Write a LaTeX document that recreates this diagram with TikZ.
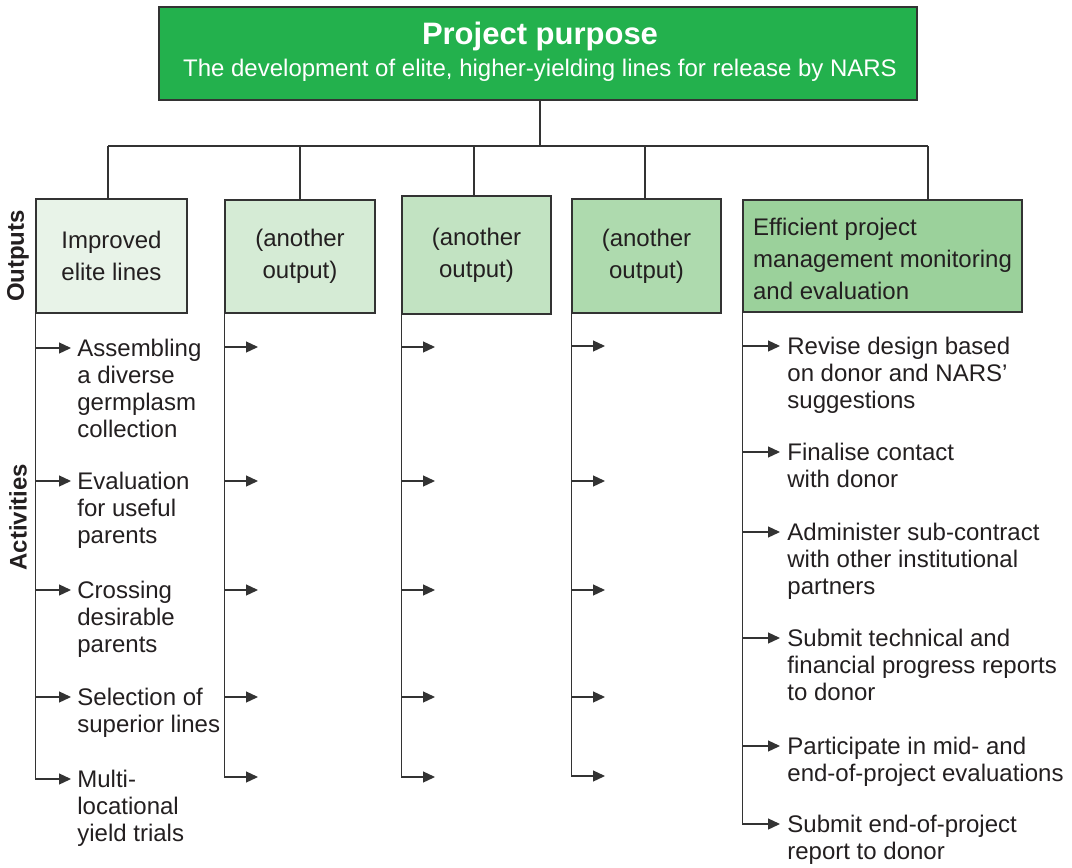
\documentclass[tikz,border=0pt]{standalone}
\usepackage{fontspec}
\setmainfont{Liberation Sans}
\usetikzlibrary{arrows.meta, calc}

\definecolor{purposegreen}{HTML}{23B14D}
\definecolor{outA}{HTML}{E8F3E8}
\definecolor{outB}{HTML}{D5EBD5}
\definecolor{outC}{HTML}{C2E3C2}
\definecolor{outD}{HTML}{AEDAAE}
\definecolor{outE}{HTML}{9BD19B}
\definecolor{linegrey}{HTML}{333333}
\definecolor{txt}{HTML}{231F20}

\tikzset{
    outbox/.style={draw=linegrey, line width=0.6pt, text=txt, align=center,
        inner sep=0pt, font=\fontsize{12}{16}\selectfont},
    acttext/.style={anchor=north west, align=left, inner sep=0pt, text=txt,
        font=\fontsize{12}{13.5}\selectfont},
    link/.style={draw=linegrey, line width=0.65pt},
    arr/.style={link, -{Triangle[length=6pt, width=5.5pt]}},
}

\begin{document}
\begin{tikzpicture}[x=0.5pt, y=-0.5pt]
    \useasboundingbox (0,0) rectangle (1072,868);

    % purpose
    \node[draw=linegrey, line width=0.6pt, fill=purposegreen, minimum width=379pt, minimum height=46.5pt] (purpose) at (538,53.5) {};
    \node[anchor=base, text=white, font=\bfseries\fontsize{15.5}{18}\selectfont] (ptitle) at (540,44) {Project purpose};
    \node[anchor=base, text=white, font=\fontsize{12}{14}\selectfont] (psub) at (540,76) {The development of elite, higher-yielding lines for release by NARS};

    % outputs
    \node[outbox, fill=outA, minimum width=75.5pt, minimum height=57pt]  (out1) at (111.5,256) {Improved\\elite lines};
    \node[outbox, fill=outB, minimum width=75pt, minimum height=56.5pt]  (out2) at (300,256.5)  {(another\\output)};
    \node[outbox, fill=outC, minimum width=74.5pt, minimum height=59pt]  (out3) at (476.5,255)  {(another\\output)};
    \node[outbox, fill=outD, minimum width=74.5pt, minimum height=57pt]  (out4) at (646.5,256)  {(another\\output)};
    \node[outbox, fill=outE, minimum width=139.5pt, minimum height=56pt, align=left, text height=43.75pt, text depth=0pt] (out5) at (882.5,256) {Efficient project\\management monitoring\\and evaluation};

    \node[rotate=90, text=txt, font=\bfseries\fontsize{12}{14}\selectfont] (outlabel) at (18,256) {Outputs};
    \node[rotate=90, text=txt, font=\bfseries\fontsize{12}{14}\selectfont] (actlabel) at (18,517) {Activities};

    % tree
    \coordinate (bus) at (540,146);
    \coordinate (bus1) at (108,146);
    \coordinate (bus2) at (300,146);
    \coordinate (bus3) at (474,146);
    \coordinate (bus4) at (645,146);
    \coordinate (bus5) at (928,146);

    \draw[link] (purpose.south -| bus) -- (bus);
    \draw[link] (bus1) -- (bus5);
    \draw[link] (bus1) -- (bus1 |- out1.north);
    \draw[link] (bus2) -- (bus2 |- out2.north);
    \draw[link] (bus3) -- (bus3 |- out3.north);
    \draw[link] (bus4) -- (bus4 |- out4.north);
    \draw[link] (bus5) -- (bus5 |- out5.north);

    % activities, first output
    \coordinate (t11) at (71,348);
    \coordinate (t12) at (71,481);
    \coordinate (t13) at (71,590);
    \coordinate (t14) at (71,697);
    \coordinate (t15) at (71,779);
    \node[acttext] (a11) at (77,339) {Assembling\\a diverse\\germplasm\\collection};
    \node[acttext] (a12) at (77,472) {Evaluation\\for useful\\parents};
    \node[acttext] (a13) at (77,581) {Crossing\\desirable\\parents};
    \node[acttext] (a14) at (77,688) {Selection of\\superior lines};
    \node[acttext] (a15) at (77,770) {Multi-\\locational\\yield trials};

    \draw[arr] (out1.south west) |- (t15);
    \draw[arr] (t11 -| out1.west) -- (t11);
    \draw[arr] (t12 -| out1.west) -- (t12);
    \draw[arr] (t13 -| out1.west) -- (t13);
    \draw[arr] (t14 -| out1.west) -- (t14);

    % activities, other outputs
    \coordinate (t21) at (258,347);
    \coordinate (t22) at (258,481);
    \coordinate (t23) at (258,590);
    \coordinate (t24) at (258,697);
    \coordinate (t25) at (258,777);
    \draw[arr] (out2.south west) |- (t25);
    \draw[arr] (t21 -| out2.west) -- (t21);
    \draw[arr] (t22 -| out2.west) -- (t22);
    \draw[arr] (t23 -| out2.west) -- (t23);
    \draw[arr] (t24 -| out2.west) -- (t24);

    \coordinate (t31) at (435,347);
    \coordinate (t32) at (435,481);
    \coordinate (t33) at (435,590);
    \coordinate (t34) at (435,697);
    \coordinate (t35) at (435,777);
    \draw[arr] (out3.south west) |- (t35);
    \draw[arr] (t31 -| out3.west) -- (t31);
    \draw[arr] (t32 -| out3.west) -- (t32);
    \draw[arr] (t33 -| out3.west) -- (t33);
    \draw[arr] (t34 -| out3.west) -- (t34);

    \coordinate (t41) at (605,346);
    \coordinate (t42) at (605,481);
    \coordinate (t43) at (605,590);
    \coordinate (t44) at (605,697);
    \coordinate (t45) at (605,776);
    \draw[arr] (out4.south west) |- (t45);
    \draw[arr] (t41 -| out4.west) -- (t41);
    \draw[arr] (t42 -| out4.west) -- (t42);
    \draw[arr] (t43 -| out4.west) -- (t43);
    \draw[arr] (t44 -| out4.west) -- (t44);

    % activities, management output
    \coordinate (t51) at (780,346);
    \coordinate (t52) at (780,452);
    \coordinate (t53) at (780,532);
    \coordinate (t54) at (780,638);
    \coordinate (t55) at (780,746);
    \coordinate (t56) at (780,824);
    \node[acttext] (a51) at (787,337) {Revise design based\\on donor and NARS’\\suggestions};
    \node[acttext] (a52) at (787,443) {Finalise contact\\with donor};
    \node[acttext] (a53) at (787,523) {Administer sub-contract\\with other institutional\\partners};
    \node[acttext] (a54) at (787,629) {Submit technical and\\financial progress reports\\to donor};
    \node[acttext] (a55) at (787,737) {Participate in mid- and\\end-of-project evaluations};
    \node[acttext] (a56) at (787,815) {Submit end-of-project\\report to donor};

    \draw[arr] (out5.south west) |- (t56);
    \draw[arr] (t51 -| out5.west) -- (t51);
    \draw[arr] (t52 -| out5.west) -- (t52);
    \draw[arr] (t53 -| out5.west) -- (t53);
    \draw[arr] (t54 -| out5.west) -- (t54);
    \draw[arr] (t55 -| out5.west) -- (t55);
\end{tikzpicture}
\end{document}
